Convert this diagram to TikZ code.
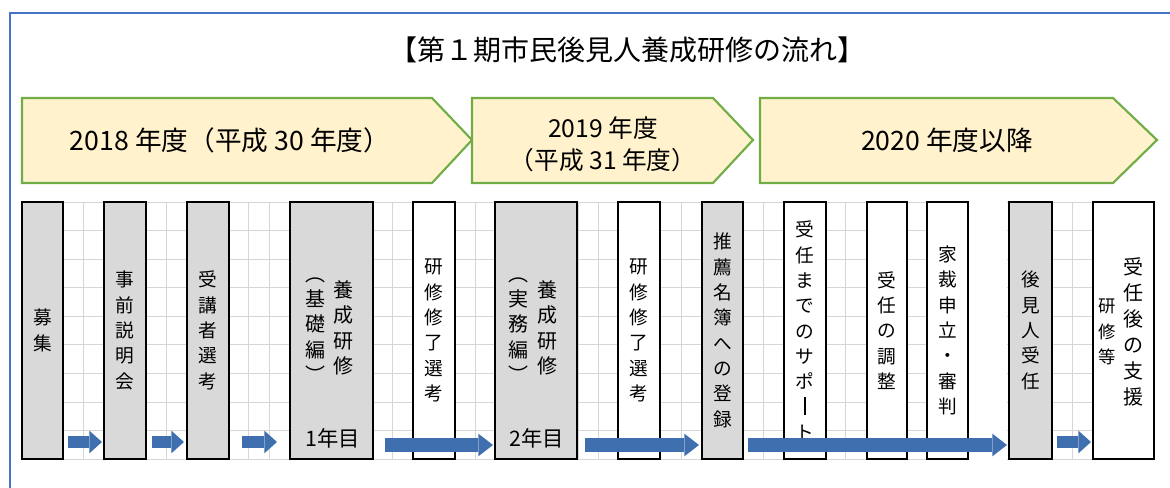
\documentclass[tikz,border=0pt]{standalone}
\usepackage{fontspec}
\setmainfont{Noto Sans CJK JP}
\usetikzlibrary{arrows.meta}
\definecolor{frameblue}{HTML}{4472C4}
\definecolor{chevfill}{HTML}{FFF2CC}
\definecolor{chevline}{HTML}{70AD47}
\definecolor{boxgray}{HTML}{D9D9D9}
\definecolor{gridgray}{HTML}{D6D6D6}
\definecolor{arrowblue}{HTML}{3F6FAE}
\newcommand\vbar{\rule[-0.05em]{1pt}{0.95em}}
\begin{document}
\begin{tikzpicture}[x=0.75pt,y=-0.75pt,
  every node/.style={inner sep=0pt,outer sep=0pt},
  bw/.style={minimum width=#1*0.75pt},
  boxbase/.style={draw=black,minimum height=192.75pt,anchor=north west,align=center,
    font=\fontsize{14}{19}\selectfont},
  graybox/.style={boxbase,fill=boxgray,line width=0.8pt},
  graythick/.style={boxbase,fill=boxgray,line width=1.8pt},
  whitebox/.style={boxbase,fill=white,line width=0.8pt},
  coltext/.style={align=center,font=\fontsize{14}{19}\selectfont},
  chev/.style={draw=chevline,fill=chevfill,line width=1.6pt,line join=miter},
  chevtext/.style={align=center,font=\fontsize{20}{24}\selectfont},
  yeartext/.style={font=\fontsize{16}{18}\selectfont},
  sarrow/.style={draw=arrowblue,line width=9pt,
    -{Triangle[length=9.5pt 0,width=17pt 0,line width=0pt]}},
  larrow/.style={draw=arrowblue,line width=10pt,
    -{Triangle[length=11pt 0,width=17pt 0,line width=0pt]}},
  gridline/.style={draw=gridgray,line width=0.5pt}
]
\useasboundingbox (0,0) rectangle (1170,488);
% frame
\draw[frameblue,line width=2.2pt] (10,488) -- (10,13) -- (1170,13);
% title
\node[font=\fontsize{21}{24}\selectfont] (title) at (627,50) {【第１期市民後見人養成研修の流れ】};
% chevrons
\draw[chev] (22,98) -- (432,98) -- (472,140) -- (432,183) -- (22,183) -- cycle;
\draw[chev] (472,98) -- (713,98) -- (753,140) -- (713,183) -- (472,183) -- cycle;
\draw[chev] (760,98) -- (1113,98) -- (1157,140) -- (1113,183) -- (760,183) -- cycle;
\node[chevtext] (h1) at (230,140) {2018 年度（平成 30 年度）};
\node[chevtext,font=\fontsize{18.5}{24}\selectfont] (h2) at (603,144) {2019 年度\\（平成 31 年度）};
\node[chevtext] (h3) at (947,140) {2020 年度以降};
% grid
\foreach \k in {0,...,9} {
  \draw[gridline] (63,{202+\k*28.55}) -- (968,{202+\k*28.55});
  \draw[gridline] (1007,{202+\k*28.55}) -- (1093,{202+\k*28.55});
}
\foreach \k in {0,...,49} {
  \pgfmathsetmacro\gx{63+\k*20.6}
  \ifdim\gx pt<968pt \draw[gridline] (\gx,202) -- (\gx,459); \fi
  \ifdim\gx pt>1007pt \draw[gridline] (\gx,202) -- (\gx,459); \fi
}
% boxes
\node[graybox,bw=41] (b1) at (22,202) {募\\集};
\node[graythick,bw=42] (b2) at (104,202) {事\\前\\説\\明\\会};
\node[graybox,bw=42] (b3) at (187,202) {受\\講\\者\\選\\考};
\node[graythick,bw=83] (b4) at (290,202) {};
\node[coltext,font=\fontsize{15}{19}\selectfont] (b4r) at (343,328) {養\\成\\研\\修};
\node[coltext,font=\fontsize{15}{19}\selectfont] (b4l) at (315,330) {︵\\基\\礎\\編\\︶};
\node[yeartext] (y1) at (333,438) {1年目};
\node[whitebox,bw=42] (b5) at (413,202) {研\\修\\修\\了\\選\\考};
\node[graythick,bw=82] (b6) at (495,202) {};
\node[coltext,font=\fontsize{15}{19}\selectfont] (b6r) at (547,328) {養\\成\\研\\修};
\node[coltext,font=\fontsize{15}{19}\selectfont] (b6l) at (518,330) {︵\\実\\務\\編\\︶};
\node[yeartext] (y2) at (537,438) {2年目};
\node[whitebox,bw=42] (b7) at (618,202) {研\\修\\修\\了\\選\\考};
\node[graythick,bw=41] (b8) at (702,202) {推\\薦\\名\\簿\\へ\\の\\登\\録};
\node[whitebox,bw=42] (b9) at (784,202) {受\\任\\ま\\で\\の\\サ\\ポ\\\vbar\\ト};
\node[whitebox,bw=40] (b10) at (867,202) {受\\任\\の\\調\\整};
\node[whitebox,bw=41] (b11) at (927,202) {家\\裁\\申\\立\\・\\審\\判};
\node[graythick,bw=43] (b12) at (1009,202) {後\\見\\人\\受\\任};
\node[whitebox,bw=61] (b13) at (1093,202) {};
\node[coltext,font=\fontsize{15}{19.5}\selectfont] (b13r) at (1133,332) {受\\任\\後\\の\\支\\援};
\node[coltext,font=\fontsize{13}{19}\selectfont] (b13l) at (1107,332) {研\\修\\等};
% arrows
\coordinate (a1s) at (68,442);  \coordinate (a1e) at (102,442);
\coordinate (a2s) at (152,442); \coordinate (a2e) at (184,442);
\coordinate (a3s) at (242,442); \coordinate (a3e) at (277,442);
\coordinate (a4s) at (385,445); \coordinate (a4e) at (493,445);
\coordinate (a5s) at (585,445); \coordinate (a5e) at (699,445);
\coordinate (a6s) at (748,445); \coordinate (a6e) at (1007,445);
\coordinate (a7s) at (1057,442);\coordinate (a7e) at (1091,442);
\draw[sarrow] (a1s) -- (a1e);
\draw[sarrow] (a2s) -- (a2e);
\draw[sarrow] (a3s) -- (a3e);
\draw[larrow] (a4s) -- (a4e);
\draw[larrow] (a5s) -- (a5e);
\draw[larrow] (a6s) -- (a6e);
\draw[sarrow] (a7s) -- (a7e);
\end{tikzpicture}
\end{document}
